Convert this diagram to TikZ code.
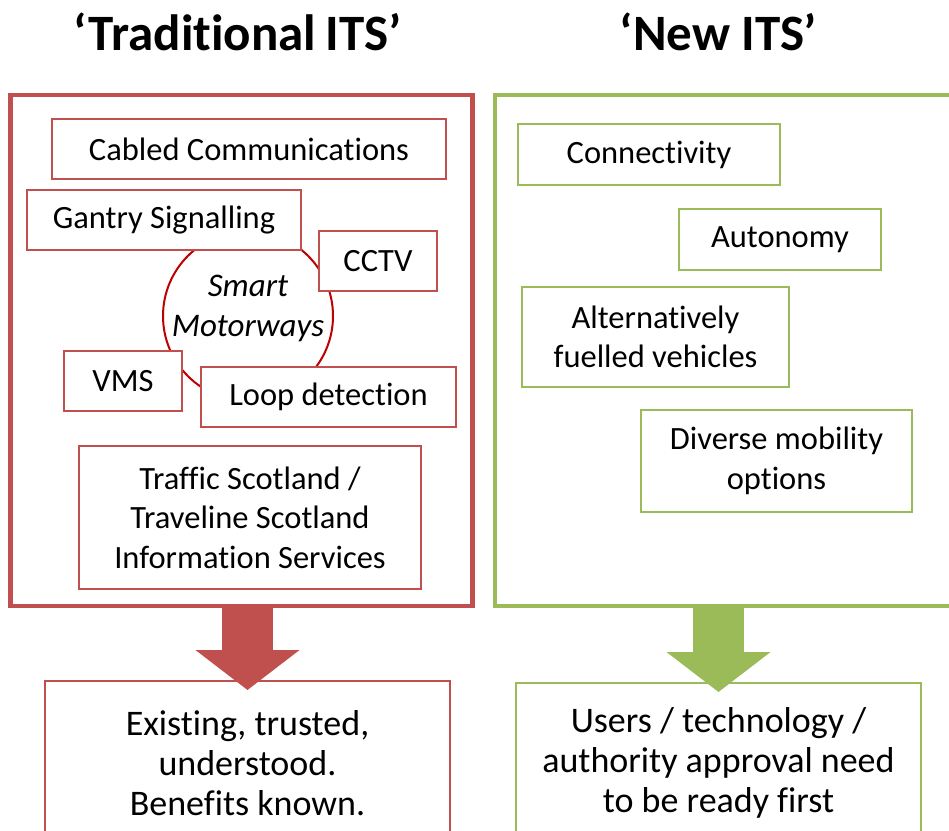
\documentclass[tikz,border=0pt]{standalone}
\usepackage{fontspec}
\setmainfont{Carlito}[Ligatures=CommonOff]
\usetikzlibrary{arrows.meta}
\definecolor{itsred}{HTML}{C0504D}
\definecolor{itsgreen}{HTML}{9BBB59}
\definecolor{ringred}{HTML}{C00000}

\begin{document}
\begin{tikzpicture}[x=1pt,y=-1pt,
  every node/.style={outer sep=0pt, inner sep=0pt},
  panel/.style={draw=#1, line width=4.5pt, rectangle},
  itembox/.style={draw=#1, line width=2.2pt, fill=white, rectangle, align=center,
    font=\fontsize{32.5}{39.5}\selectfont},
  resultbox/.style={draw=#1, line width=2.2pt, fill=white, rectangle},
  resulttext/.style={align=center, font=\fontsize{36}{40}\selectfont},
  heading/.style={anchor=base, font=\fontsize{51}{60}\selectfont\bfseries},
  blockarrow/.style={draw=#1, line width=51pt, -{Triangle[width=102pt,length=40pt]}},
]
\clip (0,0) rectangle (949,830);
\fill[white] (0,0) rectangle (949,830);

% column headings
\node[heading] (tradtitle) at (237.5,50) {‘Traditional\hspace{-2pt} ITS’};
\node[heading] (newtitle) at (718.5,50) {‘New ITS’};

% the two panels
\node[panel=itsred, minimum width=462pt, minimum height=511pt] (redout) at (241.5,350.5) {};
\node[panel=itsgreen, minimum width=480pt, minimum height=511pt] (greenout) at (735,350.5) {};

% smart motorways ring, partly hidden by the boxes around it
\node[draw=ringred, line width=2pt, circle, minimum size=170pt] (ring) at (248,316) {};

% traditional ITS elements
\node[itembox=itsred, minimum width=394pt, minimum height=60pt] (cabled) at (249,149) {Cabled Communications};
\node[itembox=itsred, minimum width=274pt, minimum height=60pt] (gantry) at (164,220) {Gantry Signalling};
\node[itembox=itsred, minimum width=118pt, minimum height=60pt] (cctv) at (378,261) {CCTV};
\node[itembox=itsred, minimum width=118pt, minimum height=60pt] (vms) at (123,381) {VMS};
\node[itembox=itsred, minimum width=255pt, minimum height=60pt] (loop) at (328.5,397) {Loop detection};
\node[itembox=itsred, minimum width=342pt, minimum height=143pt] (traffic) at (250,517.5)
  {Traffic Scotland /\\Traveline Scotland\\Information Services};
\node[align=center, font=\fontsize{33}{40}\selectfont\itshape] (smart) at (248,308) {Smart\\Motorways};

% new ITS elements
\node[itembox=itsgreen, minimum width=262pt, minimum height=61pt] (conn) at (649,154.5) {Connectivity};
\node[itembox=itsgreen, minimum width=202pt, minimum height=61pt] (auton) at (780,239.5) {Autonomy};
\node[itembox=itsgreen, minimum width=267pt, minimum height=100pt] (alt) at (655.5,337) {Alternatively\\fuelled vehicles};
\node[itembox=itsgreen, minimum width=271pt, minimum height=102pt] (diverse) at (776.5,461) {Diverse mobility\\options};

% outcome boxes
\node[resultbox=itsred, minimum width=405pt, minimum height=199pt] (redbot) at (247.5,780.5) {};
\node[resulttext] (redtxt) at (247.5,763) {Existing, trusted,\\understood.\\Benefits known.};
\node[resultbox=itsgreen, minimum width=405pt, minimum height=199pt] (greenbot) at (718.5,782.5) {};
\node[resulttext] (greentxt) at (718.5,763) {Users / technology /\\authority approval need\\to be ready first};

% block arrows from each panel to its outcome
\draw[blockarrow=itsred] (redout.south -| redbot.north) -- ([yshift=-9pt]redbot.north);
\draw[blockarrow=itsgreen] (greenout.south -| greenbot.north) -- ([yshift=-9pt]greenbot.north);
\end{tikzpicture}
\end{document}
